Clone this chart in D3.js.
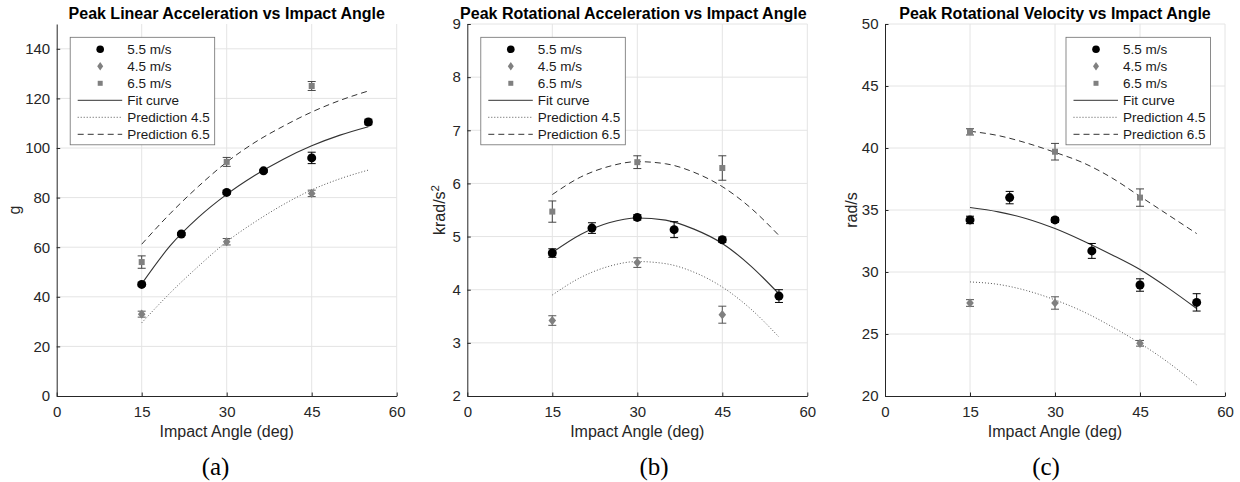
<!DOCTYPE html>
<html>
<head>
<meta charset="utf-8">
<script src="https://cdn.jsdelivr.net/npm/d3@7"></script>
<style>
  body { margin: 0; background: #fff; }
  svg text { font-family: "Liberation Sans", Arial, Helvetica, sans-serif; }
  .caption { font-family: "Liberation Serif", "Times New Roman", serif !important; }
</style>
</head>
<body>
<svg id="chart" width="1240" height="482"></svg>
<script>
// ---- data ----
const xTicks = [0, 15, 30, 45, 60];
const anglesMid = [15, 22, 30, 36.5, 45, 55];   // 5.5 m/s test angles
const anglesSide = [15, 30, 45];                // 4.5 / 6.5 m/s test angles
const fitAngles = [15, 20, 25, 30, 35, 40, 45, 50, 55];

// (a) peak linear acceleration, g
const linMid = [45, 65.3, 82.1, 90.8, 96, 110.5];
const linMidErr = [0.6, 0.6, 0.7, 0.6, 2.3, 1.1];
const lin45 = [33, 62.2, 81.7];
const lin45Err = [1.2, 1.3, 1.3];
const lin65 = [54, 94.4, 125];
const lin65Err = [2.5, 1.8, 1.8];
const linFit = [45.2, 60.5, 72, 81.3, 89, 95.5, 100.9, 105.2, 108.6];
const linPred45 = [29.5, 41.5, 52.3, 62.2, 70.2, 77.2, 83.1, 87.6, 91.1];
const linPred65 = [61.2, 73.5, 84.5, 94.3, 102.3, 108.8, 114.5, 119.2, 123];

// (b) peak rotational acceleration, krad/s^2
const racMid = [4.69, 5.16, 5.36, 5.13, 4.94, 3.88];
const racMidErr = [0.08, 0.1, 0.05, 0.15, 0.05, 0.12];
const rac45 = [3.42, 4.51, 3.53];
const rac45Err = [0.09, 0.09, 0.16];
const rac65 = [5.47, 6.40, 6.29];
const rac65Err = [0.2, 0.12, 0.23];
const racFit = [4.70, 5.04, 5.26, 5.35, 5.31, 5.14, 4.87, 4.45, 3.92];
const racPred45 = [3.90, 4.23, 4.44, 4.53, 4.49, 4.33, 4.05, 3.64, 3.11];
const racPred65 = [5.79, 6.12, 6.32, 6.41, 6.37, 6.21, 5.94, 5.54, 5.02];

// (c) peak rotational velocity, rad/s
const rvMid = [34.2, 36.0, 34.2, 31.7, 28.95, 27.55];
const rvMidErr = [0.3, 0.5, 0.2, 0.6, 0.5, 0.7];
const rv45 = [27.5, 27.5, 24.25];
const rv45Err = [0.27, 0.5, 0.23];
const rv65 = [41.3, 39.7, 36.0];
const rv65Err = [0.25, 0.67, 0.7];
const rvFit = [35.2, 34.85, 34.3, 33.5, 32.5, 31.4, 30.2, 28.7, 27.05];
const rvPred45 = [29.2, 29.0, 28.5, 27.75, 26.8, 25.6, 24.25, 22.7, 20.9];
const rvPred65 = [41.35, 41.0, 40.4, 39.65, 38.8, 37.6, 36.1, 34.6, 33.1];

const legendLabels = ['5.5 m/s', '4.5 m/s', '6.5 m/s', 'Fit curve', 'Prediction 4.5', 'Prediction 6.5'];

// ---- layout ----
const W = 340, H = 372, TOP = 24;
const GRAY = '#808080';
const AXIS = '#262626';

const panels = [
  { left: 56.7, title: 'Peak Linear Acceleration vs Impact Angle', ylab: 'g', ylabDx: -36.5,
    yDomain: [0, 150], yTicks: d3.range(0, 141, 20), mid: linMid, midErr: linMidErr,
    s45: lin45, s45Err: lin45Err, s65: lin65, s65Err: lin65Err,
    fit: linFit, p45: linPred45, p65: linPred65, legendX: 13.5, caption: '(a)', capX: 215.5 },
  { left: 467.3, title: 'Peak Rotational Acceleration vs Impact Angle', ylab: 'krad/s', sup: '2', ylabDx: -22,
    yDomain: [2, 9], yTicks: d3.range(2, 10, 1), mid: racMid, midErr: racMidErr,
    s45: rac45, s45Err: rac45Err, s65: rac65, s65Err: rac65Err,
    fit: racFit, p45: racPred45, p65: racPred65, legendX: 13.5, caption: '(b)', capX: 654, titleDx: -4 },
  { left: 885, title: 'Peak Rotational Velocity vs Impact Angle', ylab: 'rad/s', ylabDx: -28.5,
    yDomain: [20, 50], yTicks: d3.range(20, 51, 5), mid: rvMid, midErr: rvMidErr,
    s45: rv45, s45Err: rv45Err, s65: rv65, s65Err: rv65Err,
    fit: rvFit, p45: rvPred45, p65: rvPred65, legendX: 181, caption: '(c)', capX: 1046 }
];

const svg = d3.select('#chart');

const diamond = (w, h) => `M0,${-h}L${w},0L0,${h}L${-w},0Z`;

function drawMarker(sel, kind, big) {
  if (kind === 'circle') {
    sel.append('circle').attr('r', big ? 4.5 : 3.8).attr('fill', '#000');
  } else if (kind === 'diamond') {
    sel.append('path').attr('d', big ? diamond(3.8, 4.6) : diamond(3, 4.2)).attr('fill', GRAY);
  } else {
    const s = big ? 6 : 5;
    sel.append('rect').attr('x', -s / 2).attr('y', -s / 2).attr('width', s).attr('height', s).attr('fill', GRAY);
  }
}

function drawPanel(p) {
  const g = svg.append('g').attr('transform', `translate(${p.left},${TOP})`);
  const x = d3.scaleLinear().domain([0, 60]).range([0, W]);
  const y = d3.scaleLinear().domain(p.yDomain).range([H, 0]);

  // grid
  const grid = g.append('g').attr('stroke', '#e4e4e4').attr('stroke-width', 1);
  grid.selectAll('.gx').data(xTicks.slice(1)).join('line')
    .attr('x1', d => x(d)).attr('x2', d => x(d)).attr('y1', 0).attr('y2', H);
  grid.selectAll('.gy').data(p.yTicks.slice(1)).join('line')
    .attr('x1', 0).attr('x2', W).attr('y1', d => y(d)).attr('y2', d => y(d));

  // axes
  const xa = g.append('g').attr('transform', `translate(0,${H})`)
    .call(d3.axisBottom(x).tickValues(xTicks).tickSizeInner(-3.5).tickSizeOuter(0).tickPadding(10));
  const ya = g.append('g')
    .call(d3.axisLeft(y).tickValues(p.yTicks).tickFormat(d3.format('d'))
      .tickSizeInner(-3.5).tickSizeOuter(0).tickPadding(6.5));
  [xa, ya].forEach(a => {
    a.select('.domain').attr('stroke', AXIS);
    a.selectAll('.tick line').attr('stroke', AXIS);
    a.selectAll('.tick text').attr('fill', AXIS).style('font-size', '15px')
      .style('font-family', '"Liberation Sans", Arial, sans-serif');
  });

  // curves
  const line = d3.line().x((d, i) => x(fitAngles[i])).y(d => y(d)).curve(d3.curveMonotoneX);
  g.append('path').attr('d', line(p.p45)).attr('fill', 'none').attr('stroke', '#555')
    .attr('stroke-width', 1).attr('stroke-dasharray', '1,2');
  g.append('path').attr('d', line(p.p65)).attr('fill', 'none').attr('stroke', '#333')
    .attr('stroke-width', 1).attr('stroke-dasharray', '6,4');
  g.append('path').attr('d', line(p.fit)).attr('fill', 'none').attr('stroke', '#333')
    .attr('stroke-width', 1.1);

  // error bars + markers
  const series = [
    { xs: anglesSide, v: p.s45, e: p.s45Err, kind: 'diamond', col: '#555' },
    { xs: anglesSide, v: p.s65, e: p.s65Err, kind: 'square', col: '#444' },
    { xs: anglesMid, v: p.mid, e: p.midErr, kind: 'circle', col: '#000' }
  ];
  series.forEach(s => {
    const pts = s.v.map((v, i) => ({ a: s.xs[i], v, e: s.e[i] }));
    const eg = g.append('g').attr('stroke', s.col).attr('stroke-width', 1);
    pts.forEach(d => {
      const x0 = x(d.a), y1 = y(d.v - d.e), y2 = y(d.v + d.e);
      eg.append('line').attr('x1', x0).attr('x2', x0).attr('y1', y1).attr('y2', y2);
      eg.append('line').attr('x1', x0 - 4).attr('x2', x0 + 4).attr('y1', y1).attr('y2', y1);
      eg.append('line').attr('x1', x0 - 4).attr('x2', x0 + 4).attr('y1', y2).attr('y2', y2);
    });
    pts.forEach(d => {
      const m = g.append('g').attr('transform', `translate(${x(d.a)},${y(d.v)})`);
      drawMarker(m, s.kind, true);
    });
  });

  // title
  g.append('text').attr('x', W / 2 + (p.titleDx || 0)).attr('y', 19 - TOP).attr('text-anchor', 'middle')
    .style('font-size', '16px').style('font-weight', 'bold').attr('fill', '#000').text(p.title);

  // axis labels
  g.append('text').attr('x', W / 2).attr('y', H + 40.5).attr('text-anchor', 'middle')
    .style('font-size', '16px').attr('fill', AXIS).text('Impact Angle (deg)');
  const yl = g.append('text').attr('transform', `translate(${p.ylabDx},${H / 2}) rotate(-90)`)
    .attr('text-anchor', 'middle').style('font-size', '16px').attr('fill', AXIS);
  yl.append('tspan').text(p.ylab);
  if (p.sup) yl.append('tspan').attr('dy', -6).style('font-size', '11.5px').text(p.sup);

  // legend
  const lg = g.append('g').attr('transform', `translate(${p.legendX},13.3)`);
  lg.append('rect').attr('width', 144.5).attr('height', 107.5).attr('fill', '#fff')
    .attr('stroke', '#6e6e6e').attr('stroke-width', 0.8);
  legendLabels.forEach((lab, i) => {
    const ry = 12 + i * 17;
    const row = lg.append('g').attr('transform', `translate(0,${ry})`);
    if (i < 3) {
      const m = row.append('g').attr('transform', 'translate(30,0)');
      drawMarker(m, ['circle', 'diamond', 'square'][i], false);
    } else {
      const ln = row.append('line').attr('x1', 7.5).attr('x2', 52).attr('y1', 0).attr('y2', 0)
        .attr('stroke', i === 4 ? '#555' : '#333').attr('stroke-width', 1);
      if (i === 4) ln.attr('stroke-dasharray', '1,2');
      if (i === 5) ln.attr('stroke-dasharray', '6,4');
    }
    row.append('text').attr('x', 57).attr('y', 4.8).style('font-size', '13.5px')
      .attr('fill', '#1a1a1a').text(lab);
  });

  // sub-figure caption
  svg.append('text').attr('class', 'caption').attr('x', p.capX).attr('y', 475)
    .attr('text-anchor', 'middle').style('font-size', '25px').attr('fill', '#000').text(p.caption);
}

panels.forEach(drawPanel);
</script>
</body>
</html>
